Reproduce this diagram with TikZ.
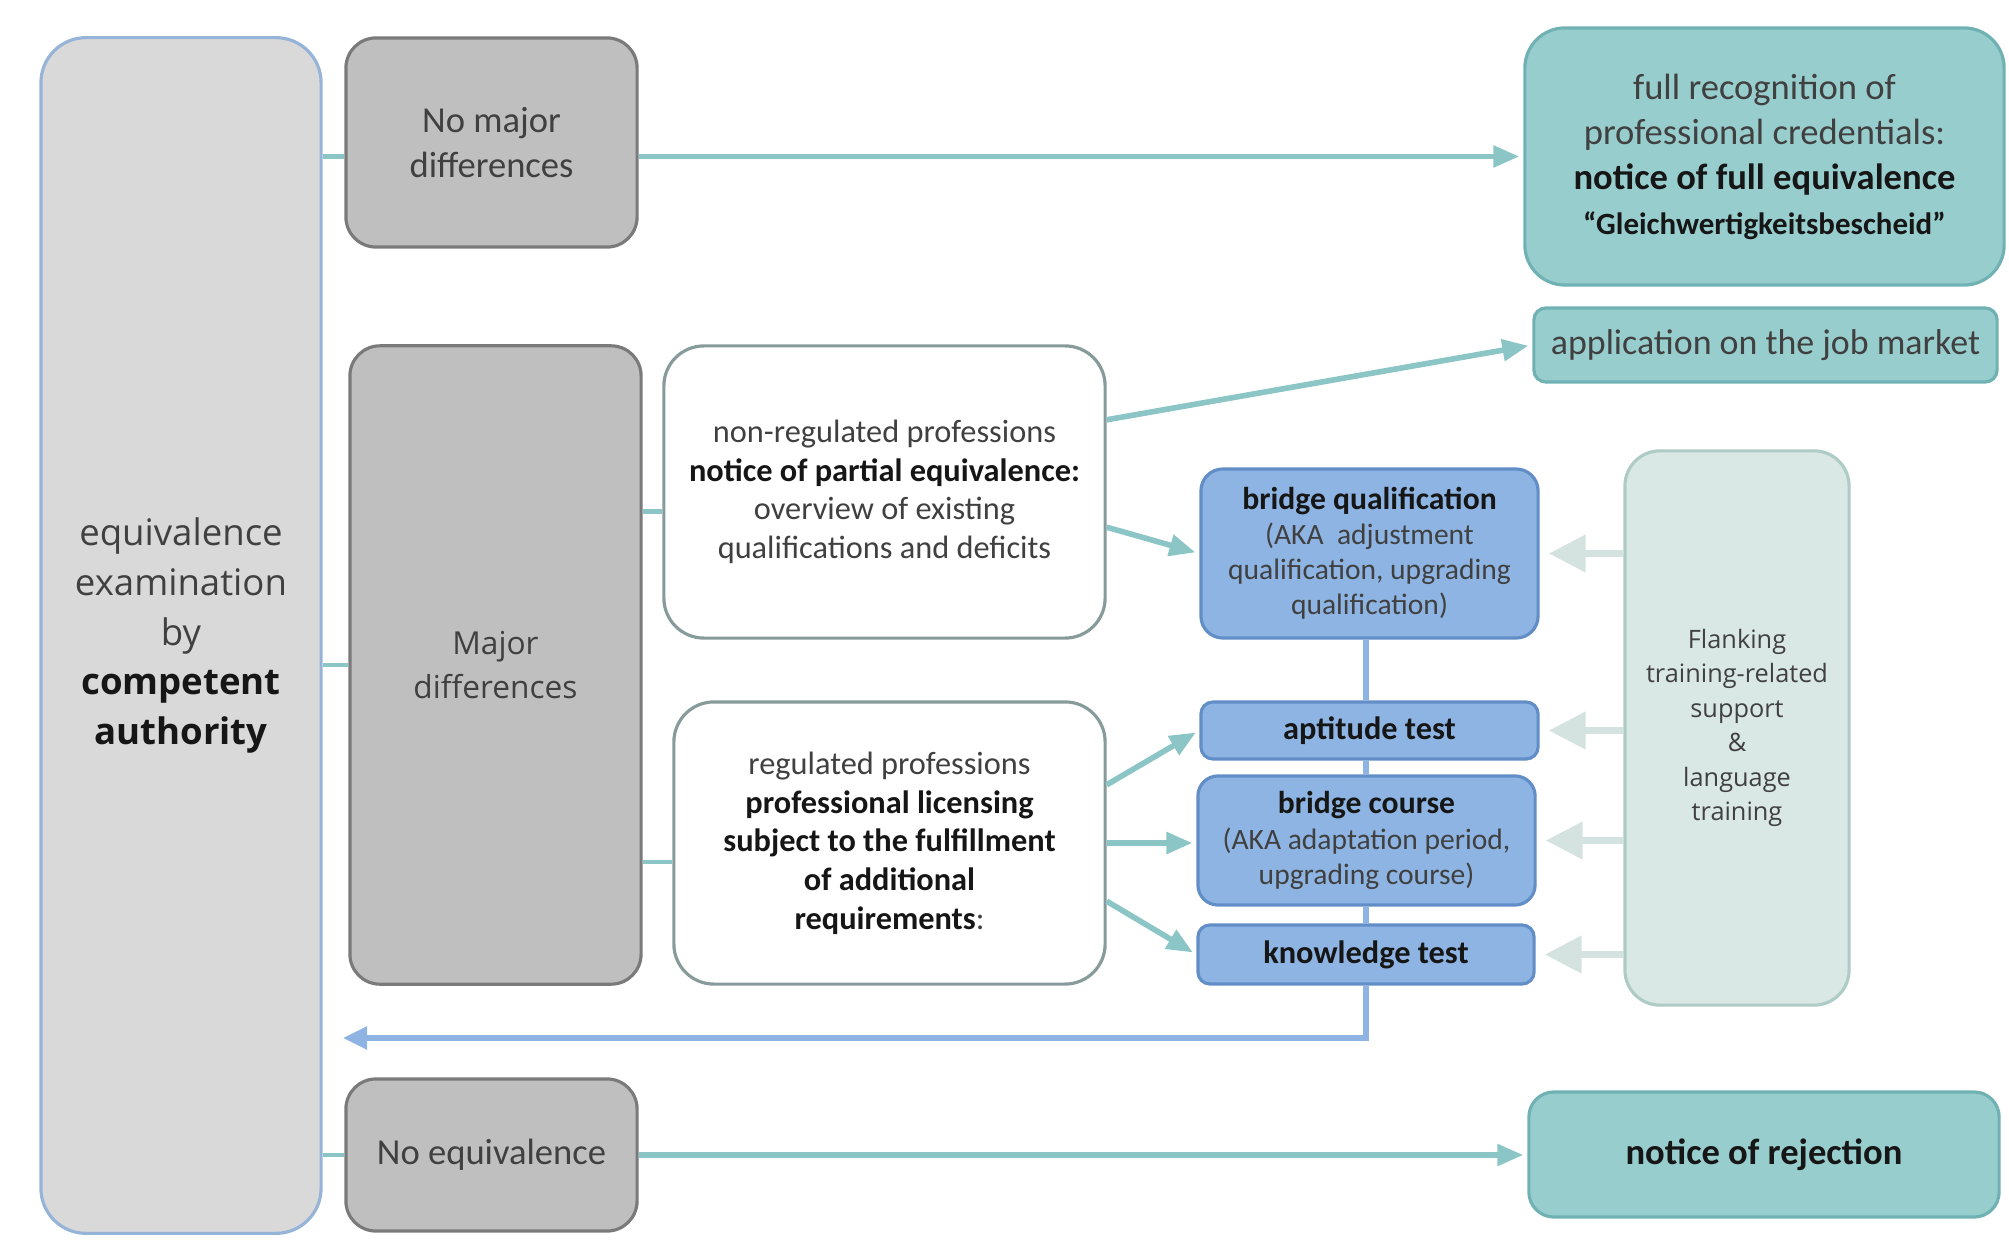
\documentclass[tikz,border=0pt]{standalone}
\usepackage{fontspec}
\setmainfont{Carlito}
\newfontfamily\opensans{Open Sans}
\usetikzlibrary{arrows.meta}

\definecolor{txtgray}{RGB}{64,64,64}
\definecolor{txtdark}{RGB}{22,22,22}
\definecolor{examfill}{RGB}{217,217,217}
\definecolor{examedge}{RGB}{150,180,215}
\definecolor{boxgray}{RGB}{191,191,191}
\definecolor{edgegray}{RGB}{122,122,122}
\definecolor{whiteedge}{RGB}{135,155,155}
\definecolor{tealfill}{RGB}{152,205,206}
\definecolor{tealedge}{RGB}{112,178,180}
\definecolor{tealline}{RGB}{140,197,197}
\definecolor{bluefill}{RGB}{141,180,226}
\definecolor{blueedge}{RGB}{98,142,200}
\definecolor{blueline}{RGB}{141,180,226}
\definecolor{flankfill}{RGB}{218,232,229}
\definecolor{flankedge}{RGB}{175,203,198}
\definecolor{flankline}{RGB}{212,227,223}

\newcommand{\bfdark}[1]{\textcolor{txtdark}{\textbf{#1}}}

\begin{document}
\begin{tikzpicture}[x=0.01cm, y=-0.01cm, >={Triangle[length=0.26cm,width=0.21cm]},
  card/.style={draw, line width=0.9pt, align=center, inner sep=0pt},
  exambox/.style={card, fill=examfill, draw=examedge, rounded corners=0.45cm, text=txtgray},
  greybox/.style={card, fill=boxgray, draw=edgegray, rounded corners=0.3cm, text=txtgray},
  plainbox/.style={card, fill=white, draw=whiteedge, rounded corners=0.4cm, text=txtgray},
  bluebox/.style={card, fill=bluefill, draw=blueedge, rounded corners=0.12cm, text=txtgray},
  resultbox/.style={card, fill=tealfill, draw=tealedge, rounded corners=0.35cm, text=txtdark},
  flankbox/.style={card, fill=flankfill, draw=flankedge, rounded corners=0.35cm, text=txtgray},
  link/.style={tealline, line width=1.3pt},
  flow/.style={tealline, line width=1.6pt, ->, shorten >=0.04cm},
  back/.style={blueline, line width=1.5pt},
  help/.style={flankline, line width=2.2pt, -{Triangle[length=0.37cm,width=0.36cm]}},
]
\useasboundingbox (0,0) rectangle (2009,1249);

% left column
\node[exambox, minimum width=2.80cm, minimum height=11.95cm, font=\opensans\fontsize{10.4}{14.2}\selectfont] (exam) at (181,635.5)
  {equivalence\\examination\\by\\\bfdark{competent}\\\bfdark{authority}};
\node[greybox, minimum width=2.91cm, minimum height=2.09cm, font=\fontsize{10.4}{12.6}\selectfont] (nomajor) at (491.5,142.5) {No major\\differences};
\node[greybox, minimum width=2.91cm, minimum height=6.38cm, font=\opensans\fontsize{9}{12.4}\selectfont] (major) at (495.5,665) {Major\\differences};
\node[greybox, minimum width=2.91cm, minimum height=1.52cm, font=\fontsize{10.4}{12.6}\selectfont] (noequiv) at (491.5,1155) {No equivalence};

% middle column
\node[plainbox, minimum width=4.41cm, minimum height=2.92cm, font=\fontsize{9.2}{11}\selectfont] (nonreg) at (884.5,492)
  {non-regulated professions\\\bfdark{notice of partial equivalence:}\\overview of existing\\qualifications and deficits};
\node[plainbox, minimum width=4.31cm, minimum height=2.82cm, font=\fontsize{9.2}{11}\selectfont] (reg) at (889.5,843)
  {regulated professions\\\bfdark{professional licensing}\\\bfdark{subject to the fulfillment}\\\bfdark{of additional}\\\bfdark{requirements}:};

% measures
\node[bluebox, rounded corners=0.22cm, minimum width=3.37cm, minimum height=1.69cm, font=\fontsize{8.4}{10}\selectfont] (bridgeq) at (1369.5,553.5)
  {\bfdark{\fontsize{9}{10}\selectfont bridge qualification}\\(AKA~ adjustment\\qualification, upgrading\\qualification)};
\node[bluebox, minimum width=3.37cm, minimum height=0.57cm, font=\fontsize{9.2}{11}\selectfont] (aptitude) at (1369.5,730.5) {\bfdark{aptitude test}};
\node[bluebox, rounded corners=0.2cm, minimum width=3.37cm, minimum height=1.29cm, font=\fontsize{8.4}{10}\selectfont] (bcourse) at (1366.5,840.5)
  {\bfdark{\fontsize{9}{10}\selectfont bridge course}\\(AKA adaptation period,\\upgrading course)};
\node[bluebox, minimum width=3.36cm, minimum height=0.59cm, font=\fontsize{9.2}{11}\selectfont] (knowledge) at (1366,954.5) {\bfdark{knowledge test}};

% right column
\node[resultbox, rounded corners=0.4cm, minimum width=4.79cm, minimum height=2.57cm, font=\fontsize{10.4}{12.8}\selectfont] (fullrec) at (1764.5,156.5)
  {\textcolor{txtgray}{full recognition of}\\\textcolor{txtgray}{professional credentials:}\\\textbf{notice of full equivalence}\\{\fontsize{8.8}{12.8}\selectfont\bfseries “Gleichwertigkeitsbescheid”}};
\node[resultbox, rounded corners=0.12cm, minimum width=4.63cm, minimum height=0.74cm, text=txtgray, font=\fontsize{10.2}{12}\selectfont] (jobmarket) at (1765.5,345) {application on the job market};
\node[flankbox, minimum width=2.24cm, minimum height=5.54cm, font=\opensans\fontsize{7.2}{9.8}\selectfont] (flank) at (1737,728)
  {Flanking\\training-related\\support\\\&\\language\\training};
\node[resultbox, rounded corners=0.25cm, minimum width=4.70cm, minimum height=1.25cm, font=\fontsize{10.4}{12}\selectfont] (reject) at (1764,1154.5) {\textbf{notice of rejection}};

% outcomes of the examination
\draw[link] (exam.east |- fullrec.west) -- (nomajor.west |- fullrec.west);
\draw[flow] (nomajor.east |- fullrec.west) -- (fullrec.west);
\draw[link] (exam.east |- major.west) -- (major.west);
\draw[link] (nonreg.185) -- (nonreg.185 -| major.east);
\draw[link] (reg.185) -- (reg.185 -| major.east);
\draw[link] (exam.east |- noequiv.west) -- (noequiv.west);
\draw[flow] (noequiv.east) -- (noequiv.east -| reject.west);

% partial equivalence
\draw[flow] (nonreg.18) -- (jobmarket.west);
\draw[flow] (nonreg.-9) -- (bridgeq.west);
\draw[flow] (reg.15) -- (aptitude.west);
\draw[flow] (reg.east) -- (reg.east -| bcourse.west);
\draw[flow] (reg.-15) -- (knowledge.west);

% compensation measures and way back
\foreach \a/\b in {bridgeq/aptitude, aptitude/bcourse, bcourse/knowledge}
  \draw[back] (\a.south -| knowledge.south) -- (\b.north -| knowledge.south);
\coordinate (return) at (343,1038);
\draw[back, ->, >={Triangle[length=0.24cm,width=0.22cm]}] (knowledge.south) |- (return);

% flanking support
\foreach \t in {bridgeq, aptitude, bcourse, knowledge}
  \draw[help] (flank.west |- \t.east) -- ([xshift=0.09cm]\t.east);
\end{tikzpicture}
\end{document}
